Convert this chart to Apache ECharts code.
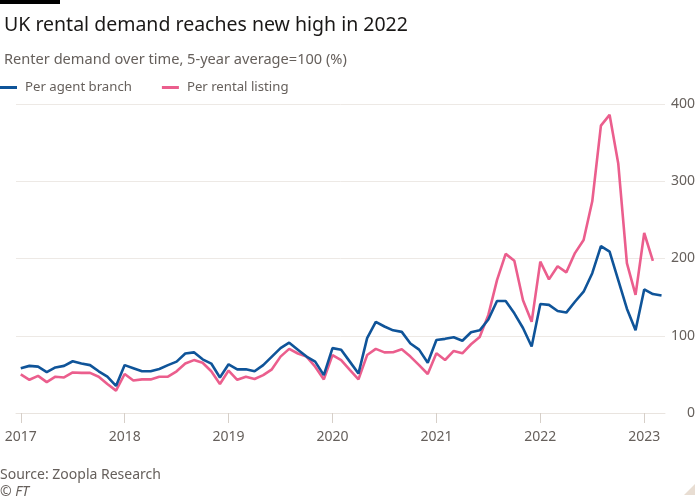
<!DOCTYPE html>
<html>
<head>
<meta charset="utf-8">
<script src="https://cdn.jsdelivr.net/npm/echarts@6/dist/echarts.min.js"></script>
<style>
html,body{margin:0;padding:0;background:#fff;}
#chart{width:700px;height:500px;}
</style>
</head>
<body>
<div id="chart"></div>
<script>
// Monthly, Jan 2017 onward
const startYear = 2017;
const yearTicks = ['2017','2018','2019','2020','2021','2022','2023'];
const perAgentBranch = [
  58,61,60,53,59,61,67,64,62,54,47,35,
  62,58,54,54,57,62,66.5,77,78.5,69.5,64,46,
  63,56.5,56.5,54,62,73,84,91,82,73,66.5,49,
  84,82,66.5,51,97,118,112,107,105,90,82,65,
  94.5,96,98,93.5,104.5,107,121,145,145,129,110,86,
  141,140,132,130,144,157,181,216,209,172,135,107,
  160,154,152
];
const perRentalListing = [
  50,43,48,40,47,46,52.5,52,52,47,37.5,29,
  50.5,42,43.5,43.5,47,47,54,64,68.5,65,54,37.5,
  55,43,47,44,49,56.5,73,83,77,73,60,43.5,
  75,68.5,55.7,43.6,75,83,78.5,78.7,82.4,73,62,50.5,
  77.3,68.6,80.3,77.3,89,98.5,127,172,206,197,146,118,
  196,173,190,182,207,224,274,372,386,323,194,153,
  233,197
];
const yTicks = [0,100,200,300,400];

const toPairs = arr => arr.map((v,i) => [i, v]);
const tickMonths = yearTicks.map((y) => (parseInt(y,10) - startYear) * 12);

const chart = echarts.init(document.getElementById('chart'), null, {renderer:'canvas'});
const FONT = '"Noto Sans", "Open Sans", sans-serif';
const GREY = '#66605c';

chart.setOption({
  backgroundColor: '#ffffff',
  animation: false,
  textStyle: {fontFamily: FONT},
  title: [{
    text: 'UK rental demand reaches new high in 2022',
    left: -1, top: 10,
    textStyle: {fontFamily: FONT, fontSize: 19.5, fontWeight: 'normal', color: '#1a1817'}
  },{
    text: 'Renter demand over time, 5-year average=100 (%)',
    left: -1, top: 47,
    textStyle: {fontFamily: FONT, fontSize: 14.6, fontWeight: 'normal', color: GREY}
  }],
  legend: {
    left: 0, top: 81, padding: 0,
    icon: 'rect', itemWidth: 17, itemHeight: 3,
    itemGap: 30,
    textStyle: {fontFamily: FONT, fontSize: 13.2, color: GREY, padding: [0,0,0,3]},
    data: ['Per agent branch', 'Per rental listing']
  },
  grid: {left: 16, right: 35, top: 104, bottom: 87, containLabel: false},
  xAxis: {
    type: 'value',
    min: -0.55, max: 74.4,
    splitLine: {show: false},
    axisLine: {show: true, lineStyle: {color: '#e9e4df', width: 1}},
    axisTick: {show: true, length: 10, customValues: tickMonths, lineStyle: {color: '#d6cfc8'}},
    axisLabel: {
      customValues: tickMonths,
      formatter: v => yearTicks[Math.round(v/12)],
      color: GREY, fontSize: 14, margin: 17, fontFamily: FONT
    }
  },
  yAxis: {
    type: 'value',
    position: 'right',
    min: yTicks[0], max: yTicks[yTicks.length-1], interval: 100,
    axisLine: {show: false},
    axisTick: {show: false},
    splitLine: {lineStyle: {color: '#ede9e5', width: 1}},
    axisLabel: {color: GREY, fontSize: 14, align: 'right', margin: 30, fontFamily: FONT}
  },
  series: [{
    name: 'Per agent branch', type: 'line',
    data: toPairs(perAgentBranch),
    showSymbol: false, symbol: 'none',
    lineStyle: {color: '#0f5499', width: 2.6},
    itemStyle: {color: '#0f5499'}, z: 3
  },{
    name: 'Per rental listing', type: 'line',
    data: toPairs(perRentalListing),
    showSymbol: false, symbol: 'none',
    lineStyle: {color: '#eb5e8d', width: 2.6},
    itemStyle: {color: '#eb5e8d'}, z: 2
  }],
  graphic: [
    {type: 'rect', left: 0, top: 0, shape: {width: 60, height: 4}, style: {fill: '#000'}},
    {type: 'text', left: 0, top: 468, style: {text: 'Source: Zoopla Research', fill: GREY, font: '14px ' + FONT}},
    {type: 'text', left: 0, top: 485, style: {text: '© FT', fill: GREY, font: 'italic 14px ' + FONT}},
    {type: 'polygon', shape: {points: [[684,495],[695,484],[695,495]]}, style: {fill: '#e8ddd2'}}
  ]
});
</script>
</body>
</html>
